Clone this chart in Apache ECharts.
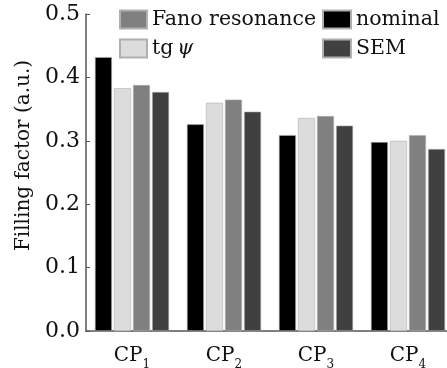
<!DOCTYPE html>
<html><head><meta charset="utf-8">
<script src="https://cdn.jsdelivr.net/npm/echarts@6/dist/echarts.min.js"></script>
<style>html,body{margin:0;padding:0;background:#fff}#c{width:447px;height:368px}</style>
</head><body><div id="c"></div>
<script>
const categories = ['1', '2', '3', '4'];
const nominal = [0.432, 0.326, 0.309, 0.298];
const tgpsi = [0.383, 0.360, 0.336, 0.300];
const fano = [0.388, 0.365, 0.339, 0.309];
const sem = [0.377, 0.346, 0.324, 0.287];
const yTicks = [0.0, 0.1, 0.2, 0.3, 0.4, 0.5];

const FONT = 'DejaVu Serif';
const chart = echarts.init(document.getElementById('c'), null, {renderer: 'canvas'});
const barStyle = (c) => ({color: c, borderColor: '#b0b0b0', borderWidth: 0.6});
const legendText = {
  fontFamily: FONT, fontSize: 20.5, color: '#111',
  rich: {
    n: {fontFamily: FONT, fontSize: 20.5, color: '#111'},
    p: {fontFamily: FONT, fontSize: 20.5, color: '#111', fontStyle: 'italic', padding: [0, 0, 0, 4]}
  }
};
const legendFmt = (name) => name === 'tgψ' ? '{n|tg}{p|ψ}' : '{n|' + name + '}';
chart.setOption({
  animation: false,
  grid: {left: 86, top: 14, bottom: 37, right: -7, containLabel: false, outerBoundsMode: 'none'},
  legend: [
    {data: ['Fano resonance', 'tgψ'], orient: 'vertical', left: 119, top: 9, padding: 0, itemWidth: 27, itemHeight: 18, itemGap: 8,
     icon: 'rect', textStyle: legendText, formatter: legendFmt},
    {data: ['nominal', 'SEM'], orient: 'vertical', left: 322, top: 9, padding: 0, itemWidth: 28, itemHeight: 18, itemGap: 8,
     icon: 'rect', textStyle: legendText, formatter: legendFmt}
  ],
  xAxis: {
    type: 'category', data: categories,
    axisLine: {lineStyle: {color: '#555', width: 1.5}},
    axisTick: {inside: true, length: 4, lineStyle: {color: '#555'}},
    axisLabel: {
      margin: 10,
      formatter: (v) => '{a|CP}{b|' + v + '}',
      rich: {a: {fontFamily: FONT, fontSize: 20, color: '#111'}, b: {fontFamily: FONT, fontSize: 12, color: '#111', padding: [18, 0, 0, 0]}}
    }
  },
  yAxis: {
    type: 'value', min: 0, max: 0.5, interval: 0.1,
    name: 'Filling factor (a.u.)', nameLocation: 'middle', nameGap: 50,
    nameTextStyle: {fontFamily: FONT, fontSize: 20, color: '#111', padding: [0, 0, 0, 34]},
    axisLine: {show: true, lineStyle: {color: '#555', width: 1.5}},
    axisTick: {show: true, inside: true, length: 4, lineStyle: {color: '#555'}},
    splitLine: {show: false},
    axisLabel: {fontFamily: FONT, fontSize: 22, color: '#111', margin: 6,
      formatter: (v) => yTicks.find(t => Math.abs(t - v) < 1e-9).toFixed(1)}
  },
  series: [
    {name: 'nominal', type: 'bar', data: nominal, itemStyle: barStyle('#000000'), barWidth: 17, barGap: '12%'},
    {name: 'tgψ', type: 'bar', data: tgpsi, itemStyle: barStyle('#dcdcdc'), barWidth: 17},
    {name: 'Fano resonance', type: 'bar', data: fano, itemStyle: barStyle('#808080'), barWidth: 17},
    {name: 'SEM', type: 'bar', data: sem, itemStyle: barStyle('#404040'), barWidth: 17}
  ]
});
</script></body></html>
